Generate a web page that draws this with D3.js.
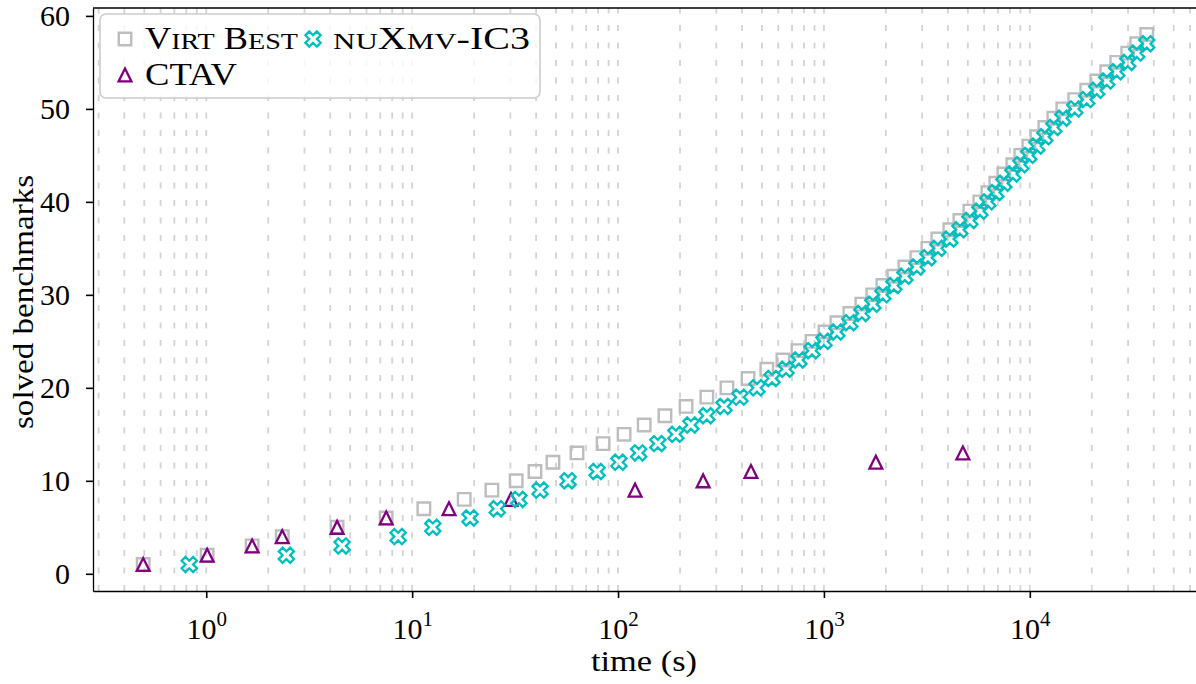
<!DOCTYPE html>
<html>
<head>
<meta charset="utf-8">
<script src="https://cdn.jsdelivr.net/npm/d3@7"></script>
<style>
  body { margin: 0; background: #fff; }
  text { font-family: "Liberation Serif", "DejaVu Serif", serif; fill: #000; }
</style>
</head>
<body>
<svg id="chart"></svg>
<script>
var width = 1196;
var height = 684;

// solve times (s) in sorted order, the n-th entry is the n-th solved benchmark
var virtBestTimes = [0.494, 1.01, 1.67, 2.34, 4.32, 7.48, 11.4, 17.9, 24.4, 32.0,
  39.5, 48.3, 63.2, 84.6, 107, 134, 169, 214, 270, 338,
  428, 528, 632, 748, 875, 1012, 1156, 1336, 1528, 1728,
  1933, 2187, 2473, 2827, 3199, 3575, 4088, 4573, 5114, 5719,
  6254, 6839, 7480, 8267, 9040, 9890, 10820, 11830, 13080, 14460,
  16530, 18900, 21140, 23640, 26440, 29900, 33060, 36970];

var ctavTimes = [0.494, 1.01, 1.67, 2.34, 4.32, 7.48, 15.1, 30.2, 121, 259,
  442, 1787, 4730];

var nuxmvTimes = [0.827, 2.45, 4.57, 8.55, 12.6, 19.1, 25.9, 33.0, 41.8, 57.2,
  79.1, 101, 126, 156, 191, 226, 270, 327, 391, 473,
  560, 654, 756, 875, 1000, 1156, 1336, 1528, 1728, 1933,
  2187, 2473, 2827, 3199, 3575, 4088, 4573, 5114, 5719, 6254,
  6839, 7480, 8267, 9040, 9890, 10820, 11830, 13080, 14460, 16530,
  18900, 21140, 23640, 26440, 29900, 33060, 36970];

var yTicks = [0, 10, 20, 30, 40, 50, 60];
var xMajor = [1, 10, 100, 1000, 10000];

var margin = { left: 93, right: 1197, top: 8, bottom: 591 };

var x = d3.scaleLog()
  .domain([0.2818, 64860])
  .range([margin.left, margin.right]);

var y = d3.scaleLinear()
  .domain([-1.85, 60.85])
  .range([margin.bottom, margin.top]);

// matplotlib like markers
var squareSym = { draw: function (ctx, size) {
  var h = Math.sqrt(size) / 2;
  ctx.rect(-h, -h, 2 * h, 2 * h);
} };
var triSym = { draw: function (ctx, size) {
  var h = Math.sqrt(size) / 2;
  ctx.moveTo(0, -h); ctx.lineTo(h, h); ctx.lineTo(-h, h); ctx.closePath();
} };

// label parts: [text, small caps?]
var series = [
  { name: [["V", 0], ["irt", 1], [" B", 0], ["est", 1]], len: 153, times: virtBestTimes, color: "#bdbdbd", sym: d3.symbol(squareSym, 156), rot: 0, sw: 2.4 },
  { name: [["CTAV", 0]], len: 92, times: ctavTimes, color: "#800080", sym: d3.symbol(triSym, 165), rot: 0, sw: 2.3 },
  { name: [["nu", 1], ["X", 0], ["mv", 1], ["-IC3", 0]], len: 197, times: nuxmvTimes, color: "#00bfbf", sym: d3.symbol(d3.symbolCross, 145), rot: 45, sw: 2.3 }
];

var svg = d3.select("#chart")
  .attr("width", width)
  .attr("height", height)
  .style("background", "#fff");

// dashed vertical grid at every log tick
svg.append("g").selectAll("line")
  .data(x.ticks())
  .enter().append("line")
  .attr("x1", function (d) { return x(d); })
  .attr("x2", function (d) { return x(d); })
  .attr("y1", margin.bottom)
  .attr("y2", margin.top)
  .attr("stroke", "#d3d3d3")
  .attr("stroke-width", 1.8)
  .attr("stroke-dasharray", "6,11.5");

// points
series.forEach(function (s) {
  svg.append("g").selectAll("path")
    .data(s.times)
    .enter().append("path")
    .attr("d", s.sym)
    .attr("transform", function (d, i) {
      return "translate(" + x(d) + "," + y(i + 1) + ") rotate(" + s.rot + ")";
    })
    .attr("fill", "none")
    .attr("stroke", s.color)
    .attr("stroke-width", s.sw);
});

// axes
var xAxis = svg.append("g")
  .attr("transform", "translate(0," + margin.bottom + ")")
  .call(d3.axisBottom(x).tickValues(xMajor).tickSize(7).tickSizeOuter(0).tickFormat(""));
xAxis.selectAll(".tick line").attr("stroke-width", 1.6);
xAxis.select(".domain").attr("stroke-width", 1.3);
xAxis.selectAll(".tick").append("text")
  .attr("y", 48)
  .attr("text-anchor", "middle")
  .style("font-size", "30px")
  .each(function (d) {
    var t = d3.select(this);
    t.append("tspan").text("10");
    t.append("tspan").attr("dy", -13).style("font-size", "21px").text(Math.round(Math.log10(d)));
  });

var yAxis = svg.append("g")
  .attr("transform", "translate(" + margin.left + ",0)")
  .call(d3.axisLeft(y).tickValues(yTicks).tickSize(7).tickSizeOuter(0).tickPadding(16));
yAxis.selectAll(".tick line").attr("stroke-width", 1.6);
yAxis.select(".domain").attr("stroke-width", 1.3);
yAxis.selectAll(".tick text")
  .style("font-size", "30px")
  .attr("font-family", null);

// top spine
svg.append("line")
  .attr("x1", margin.left).attr("x2", margin.right)
  .attr("y1", margin.top).attr("y2", margin.top)
  .attr("stroke", "#000").attr("stroke-width", 1.3);

// axis labels
svg.append("text")
  .attr("x", 644)
  .attr("y", 671)
  .attr("text-anchor", "middle")
  .attr("textLength", 106)
  .attr("lengthAdjust", "spacingAndGlyphs")
  .style("font-size", "30px")
  .text("time (s)");

svg.append("text")
  .attr("transform", "translate(33,302) rotate(-90)")
  .attr("text-anchor", "middle")
  .attr("textLength", 254)
  .attr("lengthAdjust", "spacingAndGlyphs")
  .style("font-size", "30px")
  .text("solved benchmarks");

// legend
var legend = svg.append("g");
legend.append("rect")
  .attr("x", 100).attr("y", 14)
  .attr("width", 440).attr("height", 84)
  .attr("rx", 6)
  .attr("fill", "#fff").attr("fill-opacity", 0.8)
  .attr("stroke", "#cccccc").attr("stroke-width", 1.6);

var legendPos = [[125, 39], [125, 75], [313, 39]];
series.forEach(function (s, i) {
  var p = legendPos[i];
  legend.append("path")
    .attr("d", s.sym)
    .attr("transform", "translate(" + p[0] + "," + p[1] + ") rotate(" + s.rot + ")")
    .attr("fill", "none")
    .attr("stroke", s.color)
    .attr("stroke-width", s.sw);
  var t = legend.append("text")
    .attr("x", p[0] + 20)
    .attr("y", p[1] + 10)
    .attr("textLength", s.len)
    .attr("lengthAdjust", "spacingAndGlyphs")
    .style("font-size", "31px");
  s.name.forEach(function (part) {
    t.append("tspan")
      .style("font-size", part[1] ? "24px" : null)
      .text(part[1] ? part[0].toUpperCase() : part[0]);
  });
});
</script>
</body>
</html>
